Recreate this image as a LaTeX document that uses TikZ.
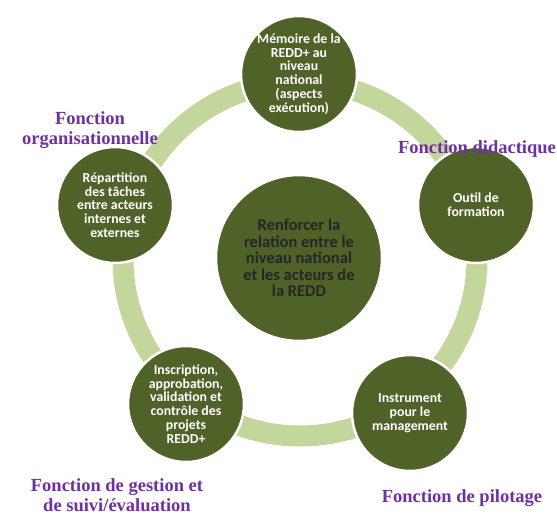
\documentclass[tikz,border=0pt]{standalone}
\usepackage{fontspec}
\setmainfont{Carlito}
\newfontfamily\fonctionfont{Liberation Serif}
\definecolor{olivedark}{HTML}{4F6228}
\definecolor{olivelight}{HTML}{C3D69B}
\definecolor{fonctionpurple}{HTML}{7030A0}

\begin{document}
\begin{tikzpicture}[x=1pt,y=-1pt,
  main node/.style={circle,fill=olivedark,draw=white,line width=2.5pt,minimum size=116pt,inner sep=-10pt,align=center,text=white,font=\fontsize{13.8}{13.8}\selectfont\bfseries},
  centre node/.style={main node,minimum size=166pt,text=black!85,font=\fontsize{16.5}{16.5}\selectfont\bfseries},
  fonction/.style={align=center,text=fonctionpurple,font=\fonctionfont\fontsize{18.5}{20}\selectfont\bfseries},
  ring/.style={draw=olivelight,line width=21pt}]

  \useasboundingbox (0,0) rectangle (557,514);

  \coordinate (c) at (300,259);
  \draw[ring] (c) circle (177pt);

  \node[main node] (memoire) at (299,74) {M\'emoire de la\\REDD+ au\\niveau\\national\\(aspects\\ex\'ecution)};
  \node[main node] (outil) at (476,205) {Outil de\\formation};
  \node[main node] (instrument) at (410,413) {Instrument\\pour le\\management};
  \node[main node] (inscription) at (186,404) {Inscription,\\approbation,\\validation et\\contr\^ole des\\projets\\REDD+};
  \node[main node] (repartition) at (115,205) {R\'epartition\\des t\^aches\\entre acteurs\\internes et\\externes};
  \node[centre node] (renforcer) at (299,258) {Renforcer la\\relation entre le\\niveau national\\et les acteurs de\\la REDD};

  \node[fonction] (f-org) at (90,130) {Fonction\\organisationnelle};
  \node[fonction] (f-did) at (477,149) {Fonction didactique};
  \node[fonction] (f-gest) at (117,495) {Fonction de gestion et\\de suivi/\'evaluation};
  \node[fonction] (f-pil) at (462,498) {Fonction de pilotage};

\end{tikzpicture}
\end{document}
